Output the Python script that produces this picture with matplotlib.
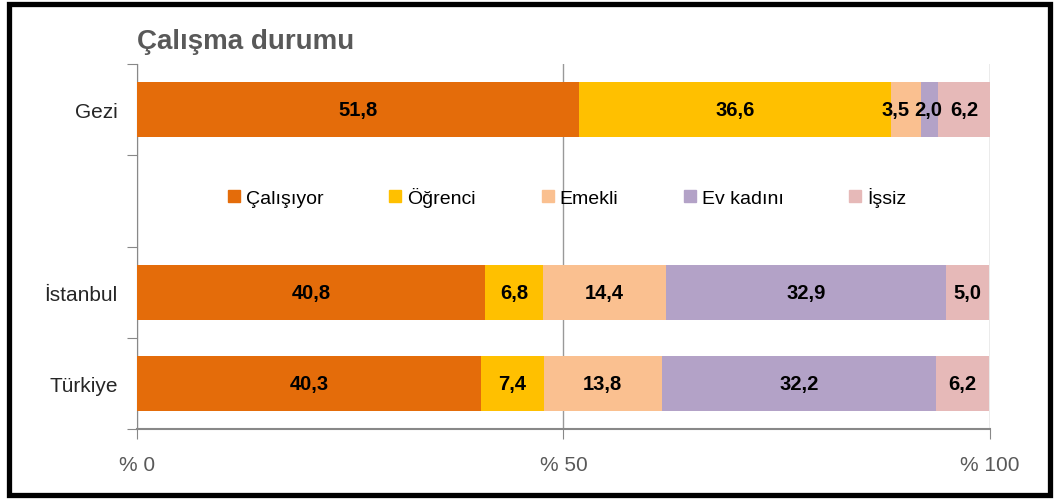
import matplotlib.pyplot as plt
from matplotlib.lines import Line2D
from matplotlib.patches import Rectangle

plt.rcParams['font.family'] = ['Liberation Sans', 'DejaVu Sans']

# veriler
gruplar = ['Gezi', '', 'İstanbul', 'Türkiye']
kategoriler = ['Çalışıyor', 'Öğrenci', 'Emekli', 'Ev kadını', 'İşsiz']
renkler = ['#E46C0A', '#FFC000', '#FAC090', '#B3A2C7', '#E6B9B8']
gezi = [51.8, 36.6, 3.5, 2.0, 6.2]
istanbul = [40.8, 6.8, 14.4, 32.9, 5.0]
turkiye = [40.3, 7.4, 13.8, 32.2, 6.2]
degerler = {'Gezi': gezi, 'İstanbul': istanbul, 'Türkiye': turkiye}
x_ticks = [0, 50, 100]
x_labels = ['% 0', '% 50', '% 100']

fig = plt.figure(figsize=(10.57, 5.02), dpi=100)
ax = fig.add_axes([0.1296, 0.1434, 0.807, 0.7271])

ypos = {g: len(gruplar) - 1 - i for i, g in enumerate(gruplar)}

# küçük dilimlerde etiketlerin üst üste binmemesi için kaydırma (piksel)
kaydir = {('Gezi', 2): -10, ('Gezi', 3): -1}

for grup, vals in degerler.items():
    sol = 0
    for j, v in enumerate(vals):
        ax.barh(ypos[grup], v, left=sol, height=0.6, color=renkler[j], zorder=3)
        ax.annotate(f"{v:.1f}".replace('.', ','), (sol + v / 2, ypos[grup]),
                    xytext=(kaydir.get((grup, j), 0), 0), textcoords='offset pixels',
                    ha='center', va='center', fontsize=14.5, fontweight='bold',
                    color='black', zorder=4)
        sol += v

ax.set_xlim(0, 100)
ax.set_ylim(-0.5, len(gruplar) - 0.5)

ax.set_xticks(x_ticks)
ax.set_xticklabels(x_labels, fontsize=15, color='#595959')
ax.tick_params(axis='x', length=7, color='#888888', pad=12)

# sınır çizgileri major, kategori isimleri minor tick
ax.set_yticks([i - 0.5 for i in range(len(gruplar) + 1)])
ax.set_yticklabels([])
ax.set_yticks(list(range(len(gruplar))), minor=True)
ax.set_yticklabels(gruplar[::-1], minor=True, fontsize=15, color='#262626')
ax.tick_params(axis='y', which='major', length=7, color='#888888')
ax.tick_params(axis='y', which='minor', length=0, pad=14)

ax.grid(axis='x', color='#999999', linewidth=1, zorder=0)
for s in ['top', 'right']:
    ax.spines[s].set_visible(False)
ax.spines['left'].set_color('#888888')
ax.spines['bottom'].set_color('#888888')
ax.spines['bottom'].set_linewidth(1.5)

handles = [Line2D([], [], marker='s', linestyle='none', markersize=8,
                  markerfacecolor=c, markeredgecolor=c) for c in renkler]
ax.legend(handles, kategoriler, ncol=5, frameon=False, fontsize=14,
          loc='center left', bbox_to_anchor=(0.107, 0.636), borderaxespad=0,
          borderpad=0, handlelength=0.6, handletextpad=0.3, columnspacing=3.4)

fig.text(0.1296, 0.916, 'Çalışma durumu', fontsize=20, fontweight='bold',
         color='#595959', ha='left', va='center')

fig.patches.append(Rectangle((0.0085, 0.012), 0.9845, 0.978, transform=fig.transFigure,
                             fill=False, edgecolor='black', linewidth=3.8))

fig.savefig('out.png', dpi=100)
